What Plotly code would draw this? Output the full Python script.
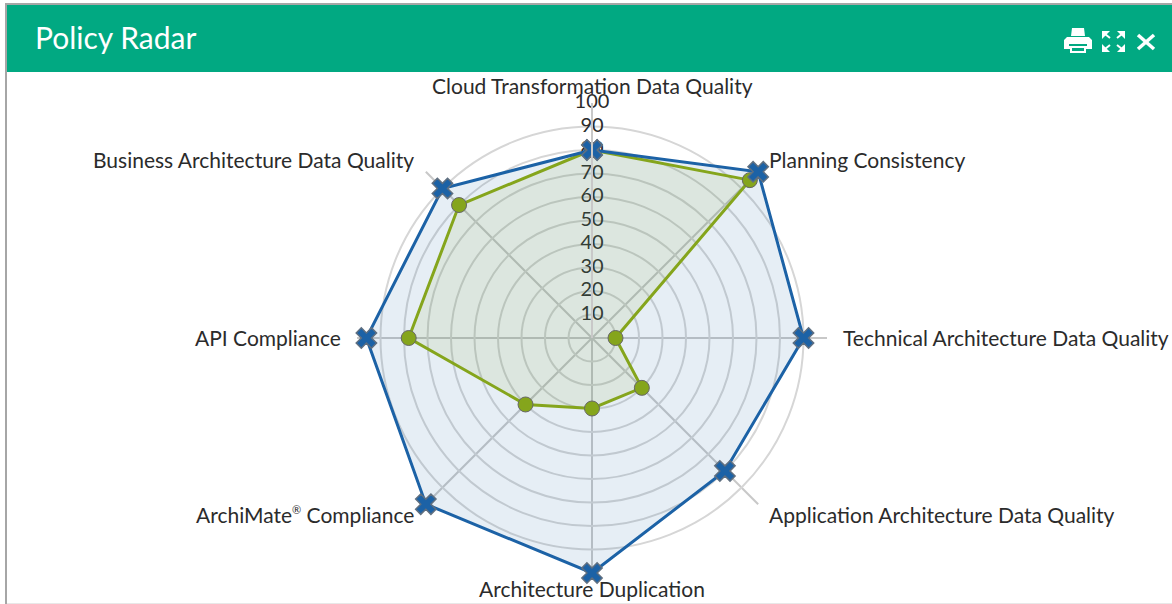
import plotly.graph_objects as go

WIDTH = 1172
HEIGHT = 604

categories = [
    "Cloud Transformation Data Quality",
    "Planning Consistency",
    "Technical Architecture Data Quality",
    "Application Architecture Data Quality",
    "Architecture Duplication",
    'ArchiMate<sup><span style="font-size:11px">®</span></sup> Compliance',
    "API Compliance",
    "Business Architecture Data Quality",
]
target_values = [80, 100, 90, 80, 100, 100, 96, 90]
actual_values = [80, 95, 10, 30, 30, 40, 78, 80]
radial_ticks = [10, 20, 30, 40, 50, 60, 70, 80, 90, 100]

# where each category label goes on the page: x, y, anchor
label_places = [
    (592, 86, "center"),
    (767, 159, "left"),
    (841, 337, "left"),
    (767, 514, "left"),
    (592, 588, "center"),
    (416, 514, "right"),
    (343, 337, "right"),
    (416, 159, "right"),
]

FONT = "Lato"
TEXT = "#2b2b2b"
BLUE = "#1c62a6"
GREEN = "#85a51c"
HEADER = "#01a982"


def px(x):
    return x / WIDTH


def py(y):
    return 1 - y / HEIGHT


def icon(path, **kwargs):
    # header icons, path given in page pixels
    parts = []
    for token in path.split():
        if "," in token:
            x, y = token.split(",")
            parts.append(f"{px(float(x)):.5f},{py(float(y)):.5f}")
        else:
            parts.append(token)
    return dict(type="path", xref="paper", yref="paper", path=" ".join(parts), **kwargs)


def arrow(x0, y0, x1, y1):
    # small corner arrow for the expand icon
    return icon(f"M {x0},{y0} L {x1},{y0} L {x0},{y1} Z", fillcolor="white", line=dict(width=0))


def stroke(x0, y0, x1, y1, width):
    return icon(f"M {x0},{y0} L {x1},{y1}", line=dict(color="white", width=width))


fig = go.Figure()

# radial numbers sit centred on the vertical axis, under the markers
fig.add_trace(
    go.Scatterpolar(
        r=radial_ticks,
        theta=[categories[0]] * len(radial_ticks),
        mode="text",
        text=[str(t) for t in radial_ticks],
        textposition="middle center",
        textfont=dict(family=FONT, size=20, color=TEXT),
        cliponaxis=False,
        hoverinfo="skip",
    )
)

# blue fill goes under the green series, blue line and markers over it
fig.add_trace(
    go.Scatterpolar(
        r=target_values + target_values[:1],
        theta=categories + categories[:1],
        mode="none",
        fill="toself",
        fillcolor="rgba(28,98,166,0.11)",
        hoverinfo="skip",
    )
)

fig.add_trace(
    go.Scatterpolar(
        r=actual_values + actual_values[:1],
        theta=categories + categories[:1],
        mode="lines+markers",
        fill="toself",
        fillcolor="rgba(133,165,28,0.10)",
        line=dict(color=GREEN, width=3),
        marker=dict(symbol="circle", size=15, color=GREEN, line=dict(color="#666666", width=1)),
        cliponaxis=False,
    )
)

fig.add_trace(
    go.Scatterpolar(
        r=target_values + target_values[:1],
        theta=categories + categories[:1],
        mode="lines+markers",
        line=dict(color=BLUE, width=3),
        marker=dict(symbol="x", size=18, color=BLUE, line=dict(color="#5f6f80", width=1.5)),
        cliponaxis=False,
    )
)

shapes = [
    dict(type="rect", xref="paper", yref="paper", x0=px(6), x1=1, y0=py(72), y1=py(4),
         fillcolor=HEADER, line=dict(width=0), layer="below"),
    dict(type="rect", xref="paper", yref="paper", x0=px(5), x1=1, y0=py(5), y1=py(3),
         fillcolor="#a6a6a6", line=dict(width=0), layer="below"),
    dict(type="rect", xref="paper", yref="paper", x0=px(5), x1=px(7), y0=0, y1=py(3),
         fillcolor="#a6a6a6", line=dict(width=0), layer="below"),
    dict(type="rect", xref="paper", yref="paper", x0=px(7), x1=1, y0=0, y1=py(603),
         fillcolor="#e8e8e8", line=dict(width=0), layer="below"),
    # printer
    icon("M 1071,36 L 1072,28 L 1084,28 L 1085,36 Z", fillcolor="white", line=dict(width=0)),
    icon("M 1064,40 L 1067,37 L 1089,37 L 1092,40 L 1092,49 L 1086,49 L 1086,53 L 1070,53 L 1070,49 L 1064,49 Z",
         fillcolor="white", line=dict(width=0)),
    icon("M 1069,44 L 1087,44 L 1087,46 L 1069,46 Z", fillcolor=HEADER, line=dict(width=0)),
    icon("M 1072,48 L 1084,48 L 1084,51 L 1072,51 Z", fillcolor=HEADER, line=dict(width=0)),
    # expand
    arrow(1102, 31, 1110, 39),
    arrow(1125, 31, 1117, 39),
    arrow(1102, 52, 1110, 44),
    arrow(1125, 52, 1117, 44),
    stroke(1105, 34, 1110, 38, 2),
    stroke(1122, 34, 1117, 38, 2),
    stroke(1105, 49, 1110, 45, 2),
    stroke(1122, 49, 1117, 45, 2),
    # close
    stroke(1138, 35, 1154, 49, 3.5),
    stroke(1154, 35, 1138, 49, 3.5),
]

annotations = [
    dict(text="Policy Radar", xref="paper", yref="paper", x=px(33), y=py(37),
         xanchor="left", yanchor="middle", showarrow=False,
         font=dict(family=FONT, size=30, color="white")),
]
for name, (x, y, anchor) in zip(categories, label_places):
    annotations.append(
        dict(text=name, xref="paper", yref="paper", x=px(x), y=py(y),
             xanchor=anchor, yanchor="middle", showarrow=False,
             font=dict(family=FONT, size=21, color=TEXT))
    )

fig.update_layout(
    width=WIDTH,
    height=HEIGHT,
    margin=dict(l=0, r=0, t=0, b=0),
    paper_bgcolor="white",
    showlegend=False,
    font=dict(family=FONT, color=TEXT),
    shapes=shapes,
    annotations=annotations,
    polar=dict(
        domain=dict(x=[px(357), px(827)], y=[py(573), py(103)]),
        bgcolor="rgba(0,0,0,0)",
        radialaxis=dict(
            range=[0, 100],
            angle=90,
            tickvals=radial_ticks,
            showticklabels=False,
            ticks="",
            showline=True,
            linecolor="#c8c8c8",
            linewidth=2,
            gridcolor="#d6d6d6",
            gridwidth=2,
        ),
        angularaxis=dict(
            categoryorder="array",
            categoryarray=categories,
            rotation=90,
            direction="clockwise",
            ticks="",
            showticklabels=False,
            showline=False,
            gridcolor="#c8c8c8",
            gridwidth=2,
        ),
    ),
)

# page margin off, so the panel starts at the window corner
fig.write_html(
    "out.html",
    config={"displayModeBar": False},
    post_script="document.body.style.margin='0';document.body.style.overflow='hidden';",
)
